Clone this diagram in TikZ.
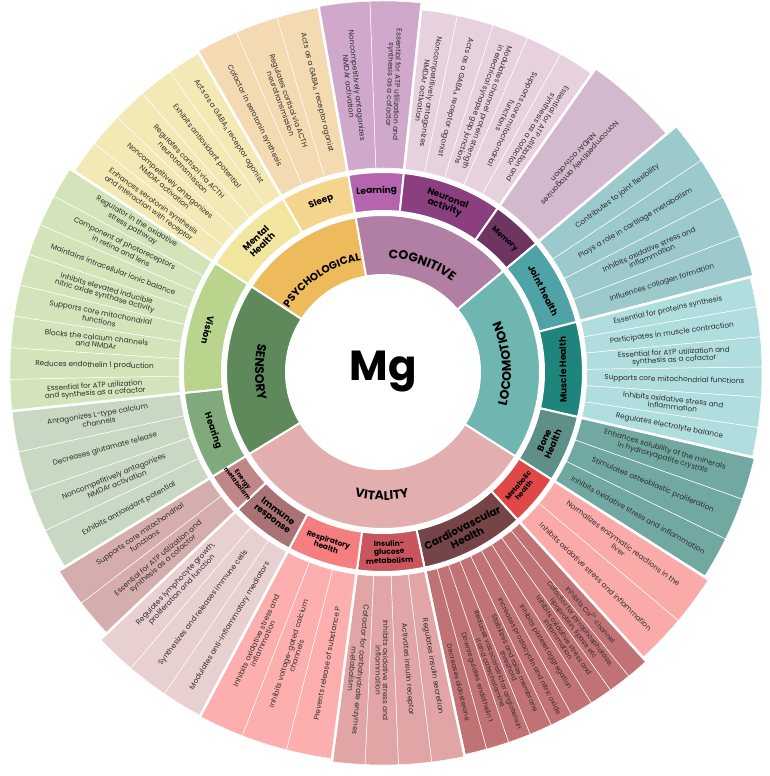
\documentclass[tikz,border=0pt]{standalone}
\usepackage{fontspec}
\setmainfont{Poppins}
\usetikzlibrary{decorations.text}
\definecolor{cogC}{HTML}{B07FA3}
\definecolor{locC}{HTML}{6FB5B0}
\definecolor{vitC}{HTML}{E3AFAE}
\definecolor{senC}{HTML}{5E8A5B}
\definecolor{psyC}{HTML}{EDBB5C}
\definecolor{mentS}{HTML}{F2E69E}
\definecolor{sleepS}{HTML}{F5D48E}
\definecolor{learnS}{HTML}{B565B0}
\definecolor{neurS}{HTML}{8B3F7E}
\definecolor{memS}{HTML}{6E3562}
\definecolor{jointS}{HTML}{4FA3A6}
\definecolor{muscS}{HTML}{1F857C}
\definecolor{boneS}{HTML}{5E8F89}
\definecolor{metaS}{HTML}{E04848}
\definecolor{cardS}{HTML}{744447}
\definecolor{insS}{HTML}{C9565F}
\definecolor{respS}{HTML}{F57E7E}
\definecolor{immS}{HTML}{A97376}
\definecolor{enS}{HTML}{C08786}
\definecolor{hearS}{HTML}{80AA7C}
\definecolor{visS}{HTML}{B8D48D}
\definecolor{mentL}{HTML}{F3E9B4}
\definecolor{sleepL}{HTML}{F4DAB0}
\definecolor{learnL}{HTML}{CFA8CB}
\definecolor{neurL}{HTML}{E8D1DF}
\definecolor{memL}{HTML}{D3B9CE}
\definecolor{jointL}{HTML}{9CC9CC}
\definecolor{muscL}{HTML}{B0DDDD}
\definecolor{boneL}{HTML}{72A8A2}
\definecolor{metaL}{HTML}{FBAAAA}
\definecolor{cardL}{HTML}{C07274}
\definecolor{insL}{HTML}{E2A5A6}
\definecolor{respL}{HTML}{FDAFAF}
\definecolor{immL}{HTML}{E8CFD0}
\definecolor{enL}{HTML}{D4ADAC}
\definecolor{hearL}{HTML}{C9D8C3}
\definecolor{visL}{HTML}{D3E3BA}
\definecolor{leafT}{HTML}{2E2E2E}
\def\leafsize{7.3}
\tikzset{
  leaftext/.style={align=center, text=leafT, font=\fontsize{\leafsize}{\leafsize}\selectfont, inner sep=0pt},
  sublabel/.style={align=center, font=\fontsize{9}{9.5}\selectfont\bfseries, inner sep=0pt},
}
\def\tshift{0}
% #1 a1, #2 a2, #3 rout, #4 colour, #5 n, #6 list
\newcommand{\leafring}[6]{%
  \pgfmathsetmacro\lwid{(#1-(#2))/#5}%
  \foreach \leaftxt [count=\i] in {#6}{%
    \pgfmathsetmacro\ba{#1-(\i-1)*\lwid}%
    \pgfmathsetmacro\bb{#1-\i*\lwid}%
    \pgfmathsetmacro\am{#1-(\i-0.5)*\lwid}%
    \fill[#4, draw=white, line width=0.5pt] (\ba:204pt) -- (\ba:#3pt) arc[start angle=\ba, end angle=\bb, radius=#3pt] -- (\bb:204pt) arc[start angle=\bb, end angle=\ba, radius=204pt] -- cycle;
    \pgfmathsetmacro\rot{(\am>40 || \am<-97.5) ? \am+180 : \am}%
    \pgfmathsetmacro\rt{(204+#3)/2+\tshift}%
    \node[leaftext, rotate=\rot] at (\am:\rt pt) {\leaftxt};
  }%
  \pgfmathsetmacro\ro{#3+3}%
  \draw[white, line width=2.5pt] (#1:202pt) -- (#1:\ro pt);
  \draw[white, line width=2.5pt] (#2:202pt) -- (#2:\ro pt);
}
% sector #1 a1 #2 a2 #3 r1 #4 r2 #5 colour
\newcommand{\sect}[5]{%
  \fill[#5, draw=white, line width=2pt] (#1:#3pt) -- (#1:#4pt) arc[start angle=#1, end angle=#2, radius=#4pt] -- (#2:#3pt) arc[start angle=#2, end angle=#1, radius=#3pt] -- cycle;
}
\begin{document}
\begin{tikzpicture}
\fill[white] (-383pt,-404pt) rectangle (387pt,372pt);
\useasboundingbox (-383pt,-404pt) rectangle (387pt,372pt);

% outer leaves
\leafring{147}{120}{368}{mentL}{5}{{Enhances serotonin synthesis\\and interaction with receptor},{Noncompetitively antagonizes\\NMDAr activation},{Regulates cortisol via ACTH\\neurotransmission},{Exhibits antioxidant potential},{Acts as a GABA\textsubscript{A} receptor agonist}}
\leafring{120}{100}{370}{sleepL}{3}{{Cofactor in serotonin synthesis},{Regulates cortisol via ACTH\\neurotransmission},{Acts as a GABA\textsubscript{A} receptor agonist}}
\leafring{100}{84}{371}{learnL}{2}{{Noncompetitively antagonizes\\NMDAr activation},{Essential for ATP utilization and\\synthesis as a cofactor}}
\leafring{84}{55}{364}{neurL}{5}{{Noncompetitively antagonizes\\NMDAr activation},{Acts as a GABA\textsubscript{A} receptor agonist},{Modulates channel protein strength\\in electrical synapse gap junctions},{Supports core mitochondrial\\functions},{Essential for ATP utilization and\\synthesis as a cofactor}}
\leafring{55}{40}{370}{memL}{1}{{Noncompetitively antagonizes\\NMDAr activation}}
\leafring{40}{14.5}{382}{jointL}{4}{{Contributes to joint flexibility},{Plays a role in cartilage metabolism},{Inhibits oxidative stress and\\inflammation},{Influences collagen formation}}
\leafring{14.5}{-13}{379}{muscL}{6}{{Essential for proteins synthesis},{Participates in muscle contraction},{Essential for ATP utilization and\\synthesis as a cofactor},{Supports core mitochondrial functions},{Inhibits oxidative stress and\\inflammation},{Regulates electrolyte balance}}
\leafring{-13}{-32.5}{381}{boneL}{3}{{Enhances solubility of the minerals\\in hydroxyapatite crystals},{Stimulates osteoblastic proliferation},{Inhibits oxidative stress and inflammation}}
\leafring{-32.5}{-47.7}{386}{metaL}{2}{{Normalizes enzymatic reactions in the\\liver},{Inhibits oxidative stress and inflammation}}
\def\tshift{22}\def\leafsize{6.8}
\leafring{-47.7}{-78}{391}{cardL}{9}{{Inhibits Ca\textsuperscript{2+} channel},{Cofactor for pyrophosphatase,\\lipoprotein, lipase etc},{Inhibits oxidative stress and\\inflammation},{Inhibits platelet aggregation},{Increases prostacyclin and nitric oxide},{Stabilizes and raise membrane\\threshold},{Reduces vasoconstrictor angiotensin\\II and catecholamine},{Downregulates endothelin 1},{Decreases aldosterone}}
\def\tshift{0}\def\leafsize{7.3}
\leafring{-78}{-97.5}{393}{insL}{4}{{Regulates insulin secretion},{Activates insulin receptor},{Inhibits oxidative stress and\\inflammation},{Cofactor for carbohydrate enzymes\\metabolism}}
\leafring{-97.5}{-118}{390}{respL}{3}{{Prevents release of substance P},{Inhibits voltage-gated calcium\\channels},{Inhibits oxidative stress and\\inflammation}}
\leafring{-118}{-136.6}{389}{immL}{3}{{Modulates anti-inflammatory mediators},{Synthesizes and releases immune cells},{Regulates lymphocyte growth,\\proliferation and function}}
\leafring{-136.6}{-148.5}{380}{enL}{2}{{Essential for ATP utilization and\\synthesis as a cofactor},{Supports core mitochondrial\\functions}}
\leafring{-148.5}{-174}{373}{hearL}{4}{{Exhibits antioxidant potential},{Noncompetitively antagonizes\\NMDAr activation},{Decreases glutamate release},{Antagonizes L-type calcium\\channels}}
\leafring{-174}{-213}{373}{visL}{8}{{Essential for ATP utilization\\and synthesis as a cofactor},{Reduces endothelin 1 production},{Blocks the calcium channels\\and NMDAr},{Supports core mitochondrial\\functions},{Inhibits elevated inducible\\nitric oxide synthase activity},{Maintains intracellular ionic balance},{Component of photoreceptors\\in retina and lens},{Regulator in the oxidative\\stress pathway}}

% ring 2
\sect{147}{120}{161}{200}{mentS}
\sect{120}{100}{161}{200}{sleepS}
\sect{100}{84}{161}{200}{learnS}
\sect{84}{55}{161}{200}{neurS}
\sect{55}{40}{161}{200}{memS}
\sect{40}{14.5}{161}{200}{jointS}
\sect{14.5}{-13}{161}{200}{muscS}
\sect{-13}{-32.5}{161}{200}{boneS}
\sect{-32.5}{-47.7}{161}{200}{metaS}
\sect{-47.7}{-78}{161}{200}{cardS}
\sect{-78}{-97.5}{161}{200}{insS}
\sect{-97.5}{-118}{161}{200}{respS}
\sect{-118}{-136.6}{161}{200}{immS}
\sect{-136.6}{-148.5}{161}{200}{enS}
\sect{-148.5}{-174}{161}{200}{hearS}
\sect{-174}{-213}{161}{200}{visS}

\node[sublabel, rotate=44] (lMent) at (133.5:180pt) {Mental\\Health};
\node[sublabel, rotate=20.5] (lSleep) at (110:181pt) {Sleep};
\node[sublabel, rotate=2] (lLearn) at (92:181pt) {Learning};
\node[sublabel, rotate=-20] (lNeur) at (69.5:180pt) {Neuronal\\activity};
\node[sublabel, rotate=-42, font=\fontsize{7.5}{8}\selectfont\bfseries] (lMem) at (47.5:180pt) {Memory};
\node[sublabel, rotate=-63] (lJoint) at (27:180pt) {Joint health};
\node[sublabel, rotate=90.75] (lMusc) at (0.75:180pt) {Muscle Health};
\node[sublabel, rotate=67] (lBone) at (-23:180pt) {Bone\\Health};
\node[sublabel, rotate=50, font=\fontsize{7}{7.5}\selectfont\bfseries] (lMeta) at (-40:180pt) {Metabolic\\health};
\node[sublabel, rotate=27, font=\fontsize{10.5}{11}\selectfont\bfseries] (lCard) at (-63:180pt) {Cardiovascular\\Health};
\node[sublabel, rotate=2, font=\fontsize{7.5}{8}\selectfont\bfseries] (lIns) at (-88:180pt) {Insulin-\\glucose\\metabolism};
\node[sublabel, rotate=-18, font=\fontsize{7.5}{8}\selectfont\bfseries] (lResp) at (-108:180pt) {Respiratory\\health};
\node[sublabel, rotate=-37] (lImm) at (-127:180pt) {Immune\\response};
\node[sublabel, rotate=-52.5, font=\fontsize{6.3}{6.8}\selectfont\bfseries] (lEn) at (-142.5:180pt) {Energy\\metabolism};
\node[sublabel, rotate=-71] (lHear) at (-161:180pt) {Hearing};
\node[sublabel, rotate=-103.5] (lVis) at (166.5:180pt) {Vision};

% ring 1
\sect{147}{100}{97}{157}{psyC}
\sect{100}{40}{97}{157}{cogC}
\sect{40}{-32.5}{97}{157}{locC}
\sect{-32.5}{-148.5}{97}{157}{vitC}
\sect{-148.5}{-213}{97}{157}{senC}

\path[decorate, decoration={text along path, text={|\fontsize{10.5}{10.5}\selectfont\bfseries|PSYCHOLOGICAL}, text align=center}] (146:114pt) arc[start angle=146, end angle=101, radius=114pt];
\path[decorate, decoration={text along path, text={|\fontsize{12.5}{12.5}\selectfont\bfseries|COGNITIVE}, text align=center}] (99:114pt) arc[start angle=99, end angle=41, radius=114pt];
\path[decorate, decoration={text along path, text={|\fontsize{12.5}{12.5}\selectfont\bfseries|LOCOMOTION}, text align=center}] (-31:128pt) arc[start angle=-31, end angle=39, radius=128pt];
\path[decorate, decoration={text along path, text={|\fontsize{12.5}{12.5}\selectfont\bfseries|VITALITY}, text align=center}] (-147:128pt) arc[start angle=-147, end angle=-34, radius=128pt];
\path[decorate, decoration={text along path, text={|\fontsize{12.5}{12.5}\selectfont\bfseries|SENSORY}, text align=center}] (148:128pt) arc[start angle=148, end angle=212, radius=128pt];

\node[font=\fontsize{42}{42}\selectfont\bfseries] (mg) at (0,0) {Mg};
\end{tikzpicture}
\end{document}
